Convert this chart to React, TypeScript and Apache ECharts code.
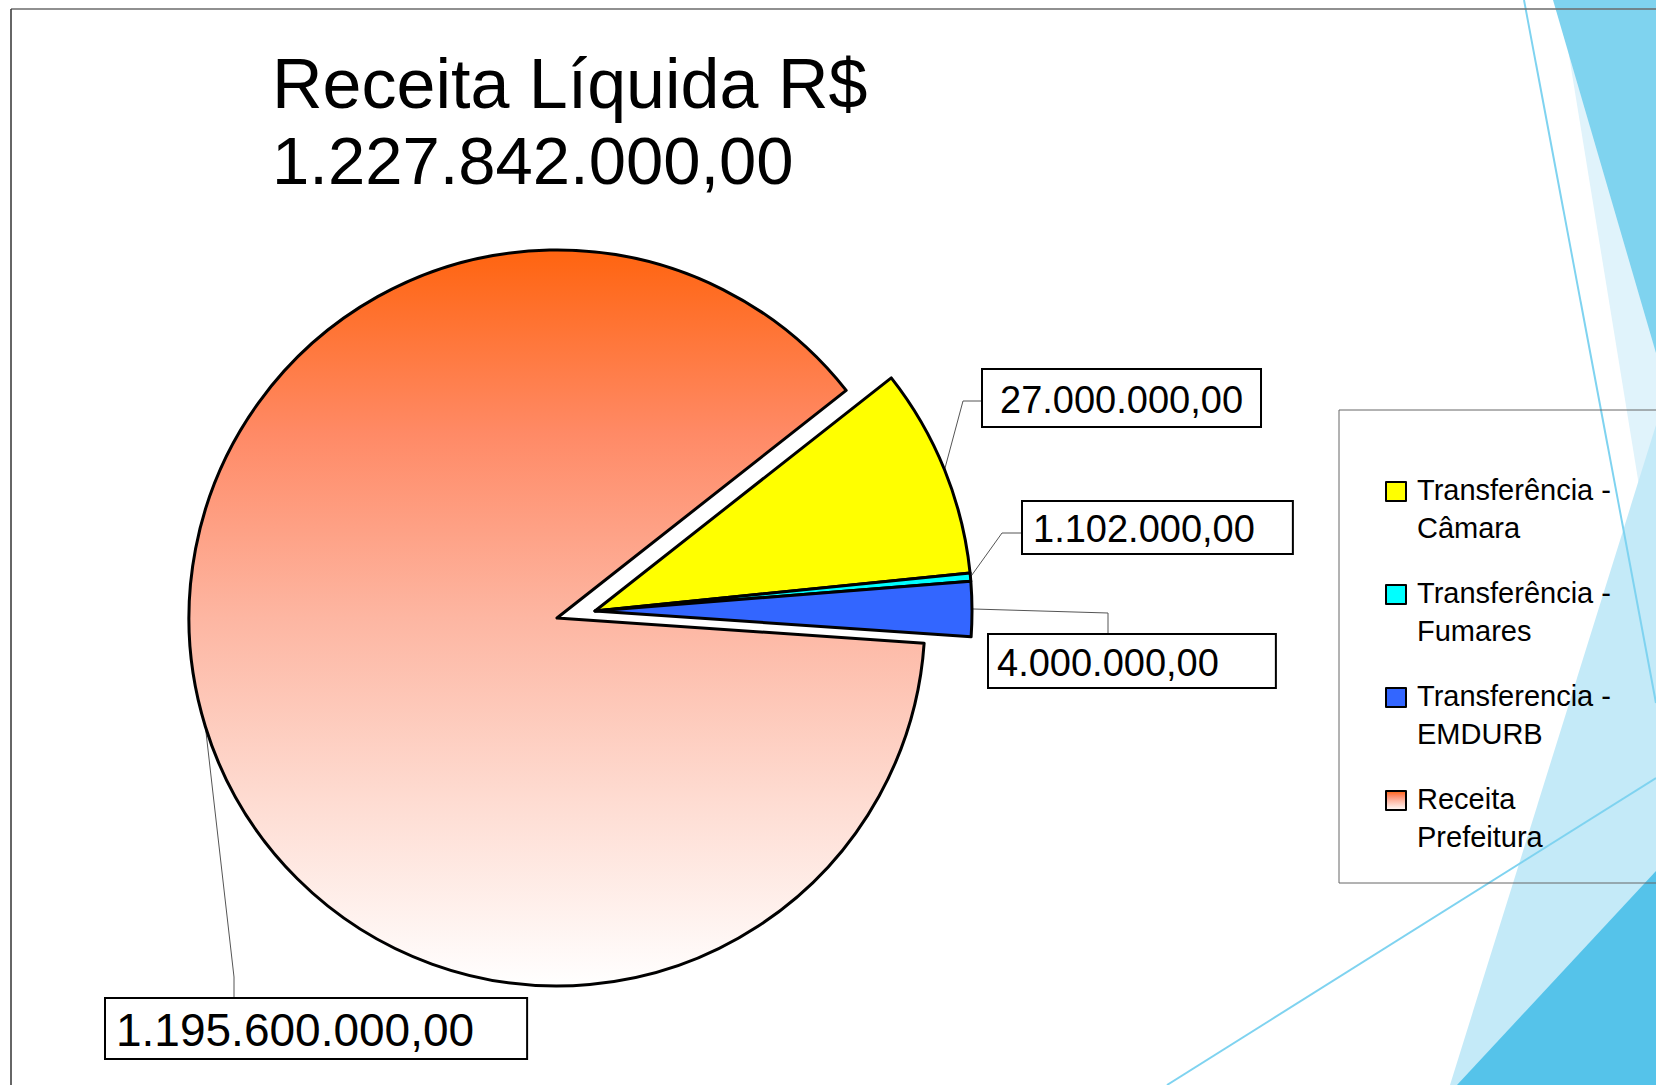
import React, { useEffect, useRef } from "react";
import * as echarts from "echarts";

// ---------- data ----------
const categories = [
  "Transferência - Câmara",
  "Transferência - Fumares",
  "Transferencia - EMDURB",
  "Receita Prefeitura",
];
const legendLines = [
  "Transferência -\nCâmara",
  "Transferência -\nFumares",
  "Transferencia -\nEMDURB",
  "Receita\nPrefeitura",
];
// amounts printed in the data labels
const amountLabels = ["27.000.000,00", "1.102.000,00", "4.000.000,00", "1.195.600.000,00"];
// share of the circle each slice occupies as drawn (%)
const sliceShares = [9.0, 0.35, 2.35, 88.3];
const titleLines = ["Receita Líquida R$", "1.227.842.000,00"];

// ---------- styling / layout ----------
const FONT = "'Liberation Sans', Arial, Helvetica, sans-serif";
const START_ANGLE = 38.2;

const prefGradient = (y2: number) =>
  new echarts.graphic.LinearGradient(0, 0, 0, y2, [
    { offset: 0, color: "#ff6410" },
    { offset: 0.25, color: "#ff8a66" },
    { offset: 0.5, color: "#fdb6a2" },
    { offset: 0.75, color: "#fedcd2" },
    { offset: 1, color: "#ffffff" },
  ]);
const sliceColors = ["#ffff00", "#00ffff", "#3366ff", prefGradient(1)];

const LABEL_POS: Record<string, { x: number; y: number; p1: number[]; p2: number[] }> = {
  "Transferência - Câmara": { x: 983, y: 370, p1: [963, 401], p2: [983, 401] },
  "Transferência - Fumares": { x: 1023, y: 502, p1: [1002, 533], p2: [1023, 533] },
  "Transferencia - EMDURB": { x: 989, y: 635, p1: [1108, 613], p2: [1108, 635] },
  "Receita Prefeitura": { x: 106, y: 999, p1: [234, 977], p2: [234, 999] },
};
const LABEL_BOX = [
  { fontSize: 38, lineHeight: 40, padding: [10, 17, 6, 17] },
  { fontSize: 38, lineHeight: 40, padding: [7, 37, 4, 10] },
  { fontSize: 38, lineHeight: 40, padding: [8, 56, 4, 8] },
  { fontSize: 46, lineHeight: 50, padding: [6, 52, 3, 10] },
];

const GAP_STYLE = {
  itemStyle: { color: "rgba(0,0,0,0)", borderWidth: 0 },
  label: { show: false },
  labelLine: { show: false },
};

function sliceItem(i: number) {
  const b = LABEL_BOX[i];
  return {
    name: categories[i],
    value: sliceShares[i],
    itemStyle: { color: sliceColors[i] },
    label: {
      fontSize: b.fontSize,
      lineHeight: b.lineHeight,
      padding: b.padding,
    },
  };
}

export default function App() {
  const ref = useRef<HTMLDivElement>(null);
  useEffect(() => {
    if (!ref.current) return;
    const chart = echarts.init(ref.current, undefined, { renderer: "svg" });

    const smallIdx = [0, 1, 2];
    const smallSum = smallIdx.reduce((s, i) => s + sliceShares[i], 0);
    const dataA = [{ name: "__gapA", value: smallSum, ...GAP_STYLE }, sliceItem(3)];
    const dataB = [...smallIdx.map(sliceItem), { name: "__gapB", value: sliceShares[3], ...GAP_STYLE }];
    const names = [dataA.map((d) => d.name), dataB.map((d) => d.name)];

    const labelLayout = (params: any) => {
      const name = names[params.seriesIndex]?.[params.dataIndex];
      const L = name ? LABEL_POS[name] : undefined;
      if (!L) return {};
      const pts = params.labelLinePoints;
      const p0 = pts && pts[0] ? pts[0] : L.p1;
      return {
        x: L.x,
        y: L.y,
        align: "left",
        verticalAlign: "top",
        labelLinePoints: [p0, L.p1, L.p2],
      };
    };

    const commonSeries = {
      type: "pie",
      clockwise: true,
      startAngle: START_ANGLE,
      avoidLabelOverlap: false,
      silent: true,
      itemStyle: { borderColor: "#000", borderWidth: 3 },
      label: {
        show: true,
        position: "outside",
        color: "#000",
        fontFamily: FONT,
        backgroundColor: "#fff",
        borderColor: "#000",
        borderWidth: 2,
        formatter: (p: any) => amountLabels[categories.indexOf(p.name)] ?? "",
      },
      labelLine: { show: true, lineStyle: { color: "#555", width: 1 } },
      labelLayout,
      emphasis: { disabled: true },
    };

    const option: any = {
      animation: false,
      backgroundColor: "#ffffff",
      title: {
        text: `{a|${titleLines[0]}}\n{b|${titleLines[1]}}`,
        left: 267,
        top: 41,
        textStyle: {
          fontFamily: FONT,
          fontSize: 67,
          lineHeight: 76,
          fontWeight: "normal",
          color: "#000",
          rich: {
            a: { fontFamily: FONT, fontSize: 70, lineHeight: 76, color: "#000" },
            b: { fontFamily: FONT, fontSize: 67, lineHeight: 76, color: "#000" },
          },
        },
      },
      legend: {
        orient: "vertical",
        left: 1339,
        top: 410,
        padding: [61, 400, 27, 46],
        itemGap: 27,
        borderColor: "#666",
        borderWidth: 1,
        selectedMode: false,
        icon: "path://M0,0H20V19H0Z M26,54",
        itemWidth: 26,
        itemHeight: 54,
        itemStyle: { borderColor: "#000", borderWidth: 2 },
        textStyle: { fontFamily: FONT, fontSize: 29, lineHeight: 38, color: "#000" },
        formatter: (name: string) => legendLines[categories.indexOf(name)] ?? name,
        data: categories.map((c, i) =>
          i === 3 ? { name: c, itemStyle: { color: prefGradient(0.36) } } : { name: c }
        ),
      },
      graphic: [
        { type: "polygon", z: 0, silent: true, shape: { points: [[1560, 0], [1656, 0], [1656, 590]] }, style: { fill: "#e0f3fb" } },
        { type: "polygon", z: 0, silent: true, shape: { points: [[1553, 0], [1656, 0], [1656, 353]] }, style: { fill: "#7fd3ef" } },
        { type: "polygon", z: 0, silent: true, shape: { points: [[1450, 1085], [1656, 425], [1656, 1085]] }, style: { fill: "#c4eaf8" } },
        { type: "polygon", z: 0, silent: true, shape: { points: [[1457, 1085], [1656, 871], [1656, 1085]] }, style: { fill: "#55c3ea" } },
        { type: "line", z: 1, silent: true, shape: { x1: 1524, y1: 0, x2: 1656, y2: 703 }, style: { stroke: "#7fd3f0", lineWidth: 2 } },
        { type: "line", z: 1, silent: true, shape: { x1: 1167, y1: 1085, x2: 1656, y2: 778 }, style: { stroke: "#7fd3f0", lineWidth: 2 } },
        { type: "line", z: 1, silent: true, shape: { x1: 11, y1: 9, x2: 1656, y2: 9 }, style: { stroke: "#6b6b6b", lineWidth: 1.5 } },
        { type: "line", z: 1, silent: true, shape: { x1: 11, y1: 9, x2: 11, y2: 1085 }, style: { stroke: "#333", lineWidth: 1.5 } },
      ],
      series: [
        { ...commonSeries, name: "Receita", center: [557, 618], radius: 368, data: dataA },
        { ...commonSeries, name: "Transferências", center: [595, 611], radius: 377, data: dataB },
      ],
    };
    chart.setOption(option);
    return () => chart.dispose();
  }, []);

  return (
    <div
      ref={ref}
      style={{ position: "fixed", left: 0, top: 0, width: 1656, height: 1085, background: "#fff" }}
    />
  );
}
